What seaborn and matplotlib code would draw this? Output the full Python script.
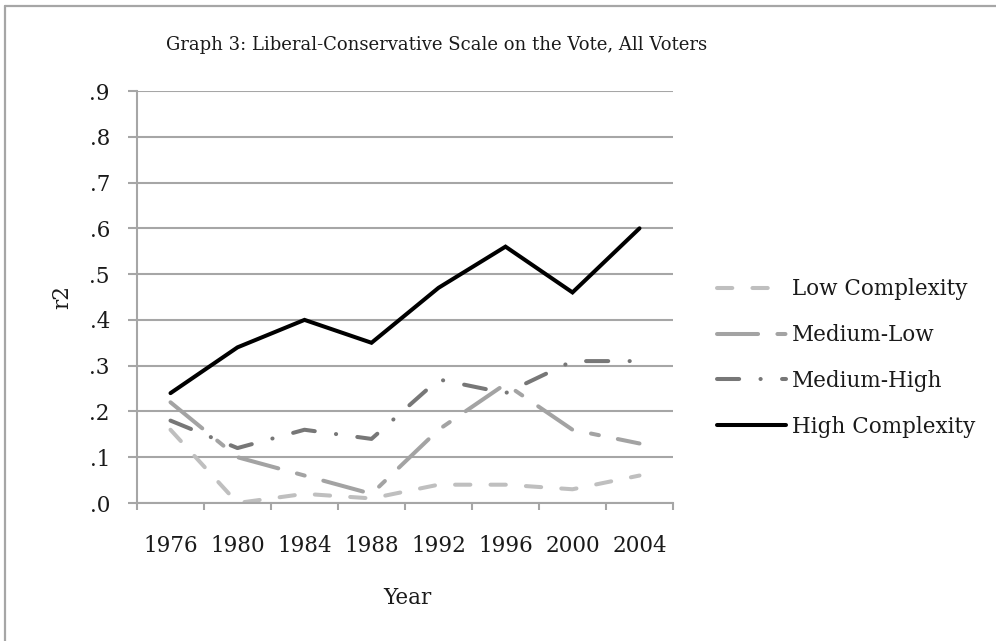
import matplotlib
matplotlib.use("Agg")
import matplotlib.pyplot as plt
from matplotlib.lines import Line2D
import numpy as np
import pandas as pd
import seaborn as sns

# ---- data -------------------------------------------------------------
years = ["1976", "1980", "1984", "1988", "1992", "1996", "2000", "2004"]
low_complexity = [0.16, 0.00, 0.02, 0.01, 0.04, 0.04, 0.03, 0.06]
medium_low = [0.22, 0.10, 0.06, 0.02, 0.16, 0.26, 0.16, 0.13]
medium_high = [0.18, 0.12, 0.16, 0.14, 0.27, 0.24, 0.31, 0.31]
high_complexity = [0.24, 0.34, 0.40, 0.35, 0.47, 0.56, 0.46, 0.60]
series_names = ["Low Complexity", "Medium-Low", "Medium-High", "High Complexity"]
y_ticks = [0.0, 0.1, 0.2, 0.3, 0.4, 0.5, 0.6, 0.7, 0.8, 0.9]
y_tick_labels = [".0", ".1", ".2", ".3", ".4", ".5", ".6", ".7", ".8", ".9"]

title = "Graph 3: Liberal-Conservative Scale on the Vote, All Voters"
x_label = "Year"
y_label = "r2"

# ---- long-form table ----------------------------------------------------
values = [low_complexity, medium_low, medium_high, high_complexity]
df = pd.DataFrame(
    [
        {"pos": i, "year": yr, "series": name, "r2": v}
        for name, vals in zip(series_names, values)
        for i, (yr, v) in enumerate(zip(years, vals))
    ]
)

# ---- styling ------------------------------------------------------------
sns.set_style("white")
plt.rcParams["font.family"] = ["DejaVu Serif"]
text_color = "#1a1a1a"
axis_gray = "#a6a6a6"

palette = {
    "Low Complexity": "#bfbfbf",
    "Medium-Low": "#a3a3a3",
    "Medium-High": "#777777",
    "High Complexity": "#000000",
}
# dash patterns in units of line width (round caps add one width to each dash)
dashes = {
    "Low Complexity": (3.8, 5.0),
    "Medium-Low": (10.2, 4.8, 2.0, 4.8),
    "Medium-High": (5.5, 5.3, 0.05, 5.3),
    "High Complexity": "",
}

fig = plt.figure(figsize=(9.96, 6.41), dpi=100)
ax = fig.add_axes([137 / 996, 138 / 641, (673 - 137) / 996, (503 - 91) / 641])

sns.lineplot(
    data=df, x="pos", y="r2", hue="series", style="series",
    hue_order=series_names, style_order=series_names,
    palette=palette, dashes=dashes, linewidth=2.9,
    legend=False, ax=ax,
)
for line, name in zip(ax.get_lines(), series_names):
    line.set_label(name)
    line.set_dash_capstyle("round")
    line.set_solid_capstyle("round")
    line.set_solid_joinstyle("miter")

# ---- axes ---------------------------------------------------------------
ax.set_xlim(-0.5, len(years) - 0.5)
ax.set_ylim(0, 0.9)
ax.set_yticks(y_ticks)
ax.set_yticklabels(y_tick_labels)
ax.set_xticks(range(len(years)))
ax.set_xticklabels(years)
ax.set_xticks(np.arange(-0.5, len(years), 1.0), minor=True)

ax.yaxis.grid(True, color=axis_gray, linewidth=1.5)
ax.xaxis.grid(False)
ax.set_axisbelow(True)
for side in ("top", "right"):
    ax.spines[side].set_visible(False)
for side in ("left", "bottom"):
    ax.spines[side].set_color(axis_gray)
    ax.spines[side].set_linewidth(1.5)

ax.tick_params(axis="y", which="major", direction="out", length=6.5, width=1.5,
               color=axis_gray, pad=13, labelsize=15.5, labelcolor=text_color, left=True)
ax.tick_params(axis="x", which="major", length=0, pad=23,
               labelsize=15.5, labelcolor=text_color, bottom=True)
ax.tick_params(axis="x", which="minor", direction="out", length=5, width=1.5,
               color=axis_gray, bottom=True)

ax.set_xlabel("")
ax.set_ylabel("")
fig.text(407 / 996, 1 - 598 / 641, x_label, ha="center", va="center",
         fontsize=15.5, color=text_color)
fig.text(62 / 996, 1 - 297 / 641, y_label, ha="center", va="center",
         rotation=90, fontsize=15.5, color=text_color)
fig.text(437 / 996, 1 - 45 / 641, title, ha="center", va="center",
         fontsize=13, color=text_color)

leg = ax.legend(
    loc="center left", bbox_to_anchor=(717 / 996, 283 / 641),
    bbox_transform=fig.transFigure, frameon=False, fontsize=15.5,
    handlelength=3.2, handletextpad=0.3, labelspacing=1.11,
    borderpad=0, borderaxespad=0,
)
for txt in leg.get_texts():
    txt.set_color(text_color)

# chart frame (top and left edges)
fig.add_artist(Line2D([4.5 / 996, 1], [1 - 5.5 / 641] * 2, transform=fig.transFigure,
                      color=axis_gray, linewidth=1.6))
fig.add_artist(Line2D([4.5 / 996] * 2, [0, 1 - 5.5 / 641], transform=fig.transFigure,
                      color=axis_gray, linewidth=1.6))

fig.savefig("out.png", dpi=100)
